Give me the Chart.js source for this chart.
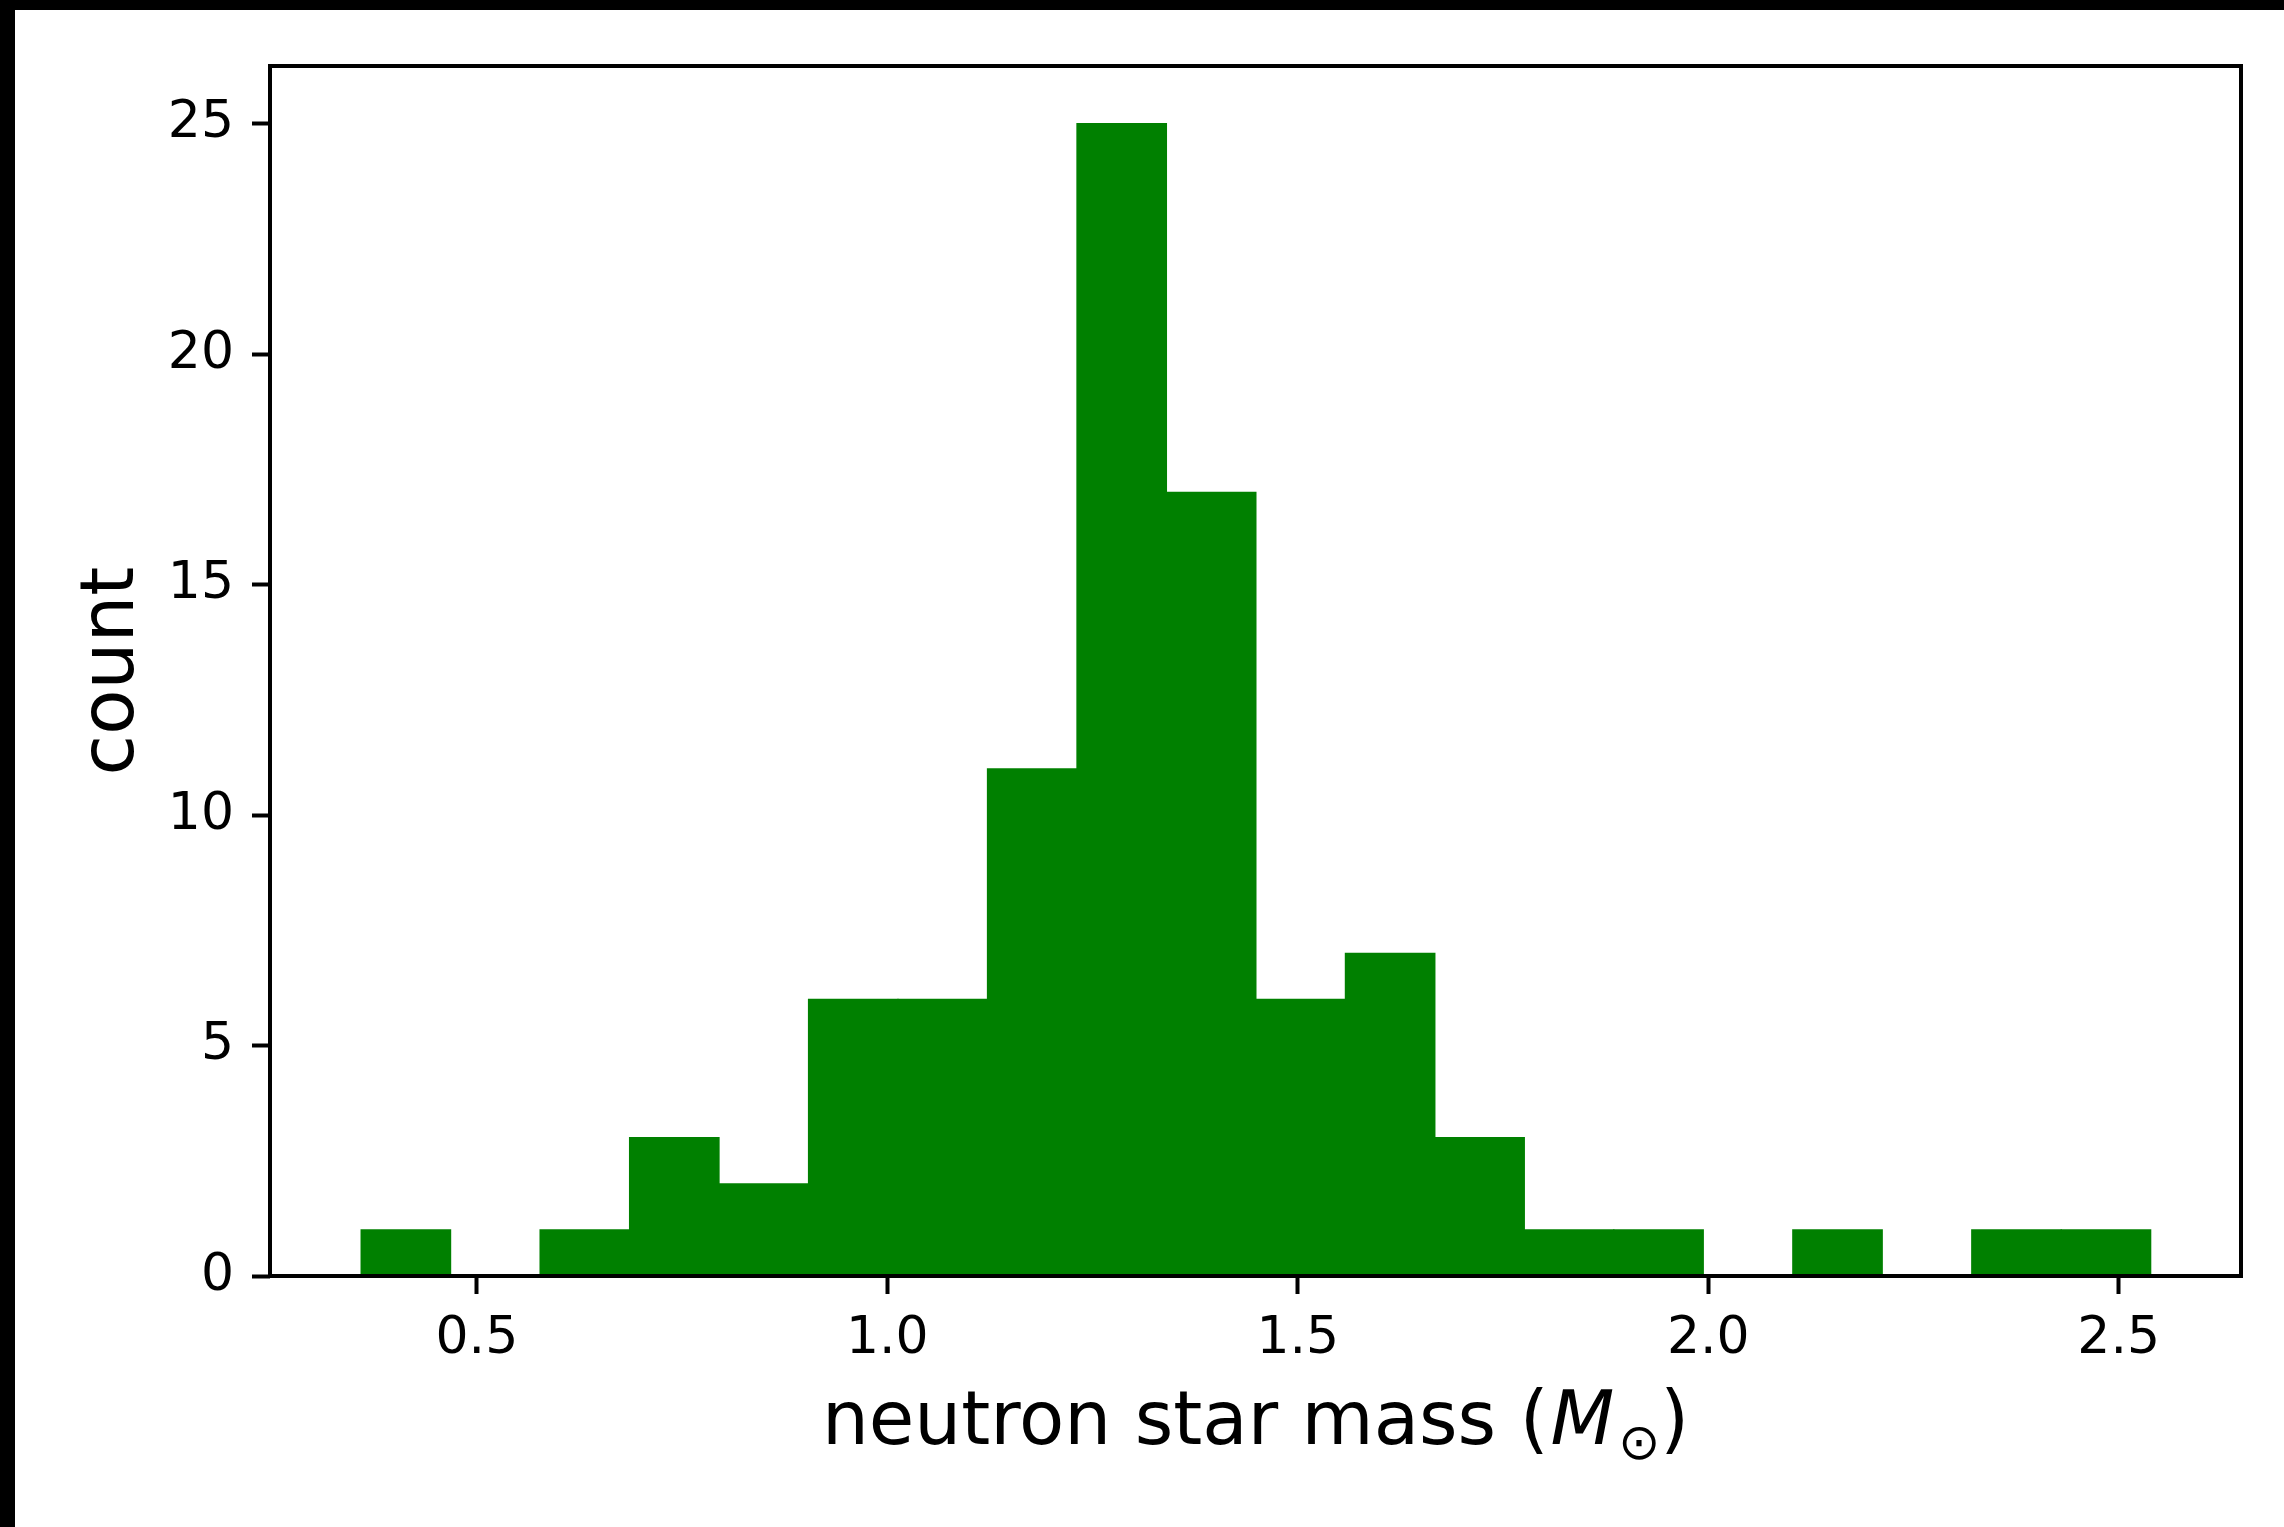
<!DOCTYPE html>
<html>
<head>
<meta charset="utf-8">
<script src="https://cdn.jsdelivr.net/npm/chart.js@4.4.1/dist/chart.umd.min.js"></script>
<style>
    html, body { margin: 0; padding: 0; background: #000; overflow: hidden; }
    #wrap { position: absolute; left: 15px; top: 10px; width: 2269px; height: 1517px; background: #fff; }
    canvas { display: block; }
</style>
</head>
<body>
<div id="wrap"><canvas id="massHist" width="2269" height="1517"></canvas></div>
<script>
// histogram bins (edges) and counts per bin
const binEdges = [0.359, 0.468, 0.577, 0.686, 0.795, 0.904, 1.013, 1.122, 1.231, 1.340, 1.449,
                  1.558, 1.667, 1.776, 1.885, 1.994, 2.103, 2.212, 2.321, 2.430, 2.539];
const binCounts = [1, 0, 1, 3, 2, 6, 6, 11, 25, 17, 6, 7, 3, 1, 1, 0, 1, 0, 1, 1];

const xTicks = [0.5, 1.0, 1.5, 2.0, 2.5];
const yTicks = [0, 5, 10, 15, 20, 25];

const xLabelParts = ['neutron star mass (', 'M', '\u2299', ')'];
const yLabel = 'count';

const FONT = "'DejaVu Sans', sans-serif";

// frame round the plot area, drawn over the bars like matplotlib spines
const framePlugin = {
    id: 'frame',
    afterDatasetsDraw(chart) {
        const a = chart.chartArea;
        const c = chart.ctx;
        c.save();
        c.strokeStyle = '#000';
        c.lineWidth = 4;
        c.strokeRect(a.left, a.top, a.right - a.left, a.bottom - a.top);
        c.restore();
    }
};

// x label with italic M and subscript sun symbol
const xLabelPlugin = {
    id: 'xlabel',
    afterDraw(chart) {
        const a = chart.chartArea;
        const c = chart.ctx;
        const size = 74;
        const fonts = [
            `${size}px ${FONT}`,
            `oblique ${size}px ${FONT}`,
            `${Math.round(size * 0.68)}px ${FONT}`,
            `${size}px ${FONT}`
        ];
        const shifts = [0, 0, size * 0.2, 0];
        const gaps = [0, 2, 4, 0];
        c.save();
        c.fillStyle = '#000';
        c.textBaseline = 'alphabetic';
        c.textAlign = 'left';
        let total = 0;
        const widths = xLabelParts.map((t, i) => {
            c.font = fonts[i];
            const w = c.measureText(t).width + gaps[i];
            total += w;
            return w;
        });
        let x = (a.left + a.right) / 2 - total / 2;
        const y = 1434;
        xLabelParts.forEach((t, i) => {
            c.font = fonts[i];
            c.fillText(t, x + gaps[i], y + shifts[i]);
            x += widths[i];
        });
        c.restore();
    }
};

const ctx = document.getElementById('massHist');

new Chart(ctx, {
    type: 'bar',
    data: {
        datasets: [{
            data: binCounts.map((c, i) => ({ x: (binEdges[i] + binEdges[i + 1]) / 2, y: c })),
            backgroundColor: '#008000',
            borderWidth: 0,
            barPercentage: 1,
            categoryPercentage: 1,
            inflateAmount: 0.6
        }]
    },
    options: {
        responsive: false,
        animation: false,
        layout: { padding: { top: 56, right: 43, left: 0, bottom: 0 } },
        plugins: { legend: { display: false }, tooltip: { enabled: false } },
        scales: {
            x: {
                type: 'linear',
                offset: false,
                min: 0.248,
                max: 2.649,
                afterBuildTicks: s => { s.ticks = xTicks.map(v => ({ value: v })); },
                afterFit: s => { s.height = 251; },
                grid: { offset: false, drawOnChartArea: false, tickLength: 18, tickWidth: 4, tickColor: '#000' },
                border: { display: false },
                ticks: {
                    font: { family: FONT, size: 52 },
                    color: '#000',
                    padding: 14,
                    maxRotation: 0,
                    callback: v => v.toFixed(1)
                }
            },
            y: {
                min: 0,
                max: 26.25,
                afterBuildTicks: s => { s.ticks = yTicks.map(v => ({ value: v })); },
                afterFit: s => { s.width = 255; },
                grid: { drawOnChartArea: false, tickLength: 18, tickWidth: 4, tickColor: '#000' },
                border: { display: false },
                ticks: {
                    font: { family: FONT, size: 52 },
                    color: '#000',
                    padding: 18,
                    callback: v => String(v)
                },
                title: {
                    display: true,
                    text: yLabel,
                    color: '#000',
                    font: { family: FONT, size: 74 },
                    padding: { top: 54, bottom: 0 }
                }
            }
        }
    },
    plugins: [framePlugin, xLabelPlugin]
});
</script>
</body>
</html>
